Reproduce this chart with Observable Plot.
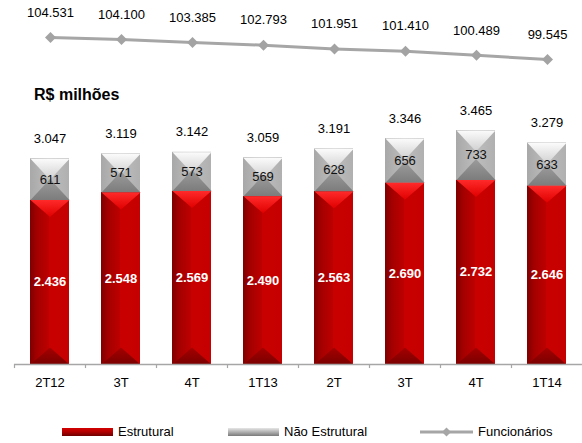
<!DOCTYPE html>
<html><head><meta charset="utf-8">
<script src="https://cdn.jsdelivr.net/npm/d3@7"></script>
<script src="https://cdn.jsdelivr.net/npm/@observablehq/plot@0.6"></script>
<style>
body{margin:0;background:#fff;font-family:Arial,"Liberation Sans",sans-serif;}
#wrap{position:relative;width:582px;height:443px;overflow:hidden;}
#topChart{position:absolute;left:0;top:0;}
#bars{position:absolute;left:0;top:100px;}
#title{position:absolute;left:34px;top:86px;font-weight:bold;font-size:16px;line-height:18px;color:#000;}
.leg{position:absolute;top:424px;font-size:13px;line-height:16px;color:#000;display:flex;align-items:center;}
.leg svg{margin-right:5px;}
</style></head><body>
<div id="wrap">
  <div id="topChart"></div>
  <div id="title">R$ milhões</div>
  <div id="bars"></div>
  <div class="leg" style="left:62px;"><svg width="51" height="10"><defs><linearGradient id="lr" x1="0" y1="0" x2="0" y2="1"><stop offset="0" stop-color="#d40000"/><stop offset="0.5" stop-color="#b00000"/><stop offset="1" stop-color="#6e0000"/></linearGradient></defs><rect x="0" y="1" width="51" height="8" fill="url(#lr)"/></svg>Estrutural</div>
  <div class="leg" style="left:228px;"><svg width="51" height="10"><defs><linearGradient id="lg" x1="0" y1="0" x2="0" y2="1"><stop offset="0" stop-color="#e6e6e6"/><stop offset="0.5" stop-color="#b0b0b0"/><stop offset="1" stop-color="#7a7a7a"/></linearGradient></defs><rect x="0" y="1" width="51" height="8" fill="url(#lg)"/></svg>Não Estrutural</div>
  <div class="leg" style="left:420px;"><svg width="53" height="12"><line x1="0" y1="6" x2="53" y2="6" stroke="#a6a6a6" stroke-width="3"/><path d="M26.5,1.5L31,6L26.5,10.5L22,6Z" fill="#a6a6a6"/></svg>Funcionários</div>
</div>
<script>
// ---- data ----
const periodKeys = ["2T12","3T12","4T12","1T13","2T13","3T13","4T13","1T14"];
const periodLabels = ["2T12","3T","4T","1T13","2T","3T","4T","1T14"];
const estrutural = [2436,2548,2569,2490,2563,2690,2732,2646];
const naoEstrutural = [611,571,573,569,628,656,733,633];
const totais = [3047,3119,3142,3059,3191,3346,3465,3279];
const funcionarios = [104531,104100,103385,102793,101951,101410,100489,99545];

const fmt = n => d3.format(",")(n).replace(/,/g, ".");
const labelOf = Object.fromEntries(periodKeys.map((k, i) => [k, periodLabels[i]]));
const rows = periodKeys.map((k, i) => ({
  key: k, estr: estrutural[i], nao: naoEstrutural[i], total: totais[i], func: funcionarios[i]
}));

const FONT = 'Arial, "Liberation Sans", sans-serif';
const HW = 19.5; // half bar width (bevel shapes)
const triDown = h => ({draw(c){c.moveTo(-HW,0);c.lineTo(HW,0);c.lineTo(0,h);c.closePath();}});
const triUp = h => ({draw(c){c.moveTo(-HW,0);c.lineTo(HW,0);c.lineTo(0,-h);c.closePath();}});
const diamond = {draw(c){c.moveTo(0,-5.5);c.lineTo(5.5,0);c.lineTo(0,5.5);c.lineTo(-5.5,0);c.closePath();}};

// ---- top line chart ----
const lineChart = Plot.plot({
  width: 582, height: 80,
  marginTop: 0, marginBottom: 0, marginLeft: 14, marginRight: 0,
  style: {fontFamily: FONT, fontSize: "13px", background: "transparent"},
  x: {type: "point", domain: periodKeys, padding: 0.5, axis: null},
  y: {domain: [99545, 104531], range: [59, 37], axis: null},
  marks: [
    Plot.line(rows, {x: "key", y: "func", stroke: "#a6a6a6", strokeWidth: 3}),
    Plot.dot(rows, {x: "key", y: "func", symbol: diamond, fill: "#a3a3a3", r: 5}),
    Plot.text(rows, {x: "key", y: "func", text: d => fmt(d.func), dy: -25, fill: "#000"})
  ]
});
document.getElementById("topChart").append(lineChart);

// ---- bar chart ----
const defs = () => {
  const s = d3.create("svg:defs");
  const grad = (id, vertical, stops) => {
    const g = s.append("linearGradient").attr("id", id)
      .attr("x1", 0).attr("y1", 0).attr("x2", vertical ? 0 : 1).attr("y2", vertical ? 1 : 0);
    stops.forEach(([o, c]) => g.append("stop").attr("offset", o).attr("stop-color", c));
  };
  grad("redBase", false, [[0, "#7e0000"], [0.18, "#a40000"], [0.49, "#bd0000"], [0.5, "#c90000"], [1, "#c50000"]]);
  grad("redTop", true, [[0, "#ff2a2a"], [1, "#e00000"]]);
  grad("redBot", true, [[0, "#a50000"], [1, "#7a0000"]]);
  grad("grayBase", false, [[0, "#a8a8a8"], [0.5, "#bdbdbd"], [1, "#b0b0b0"]]);
  grad("grayTop", true, [[0, "#fbfbfb"], [1, "#cfcfcf"]]);
  grad("grayBot", true, [[0, "#9c9c9c"], [1, "#7c7c7c"]]);
  return s.node();
};

const barChart = Plot.plot({
  width: 582, height: 300,
  marginTop: 0, marginBottom: 36, marginLeft: 14, marginRight: 0,
  style: {fontFamily: FONT, fontSize: "13px", background: "transparent", color: "#000"},
  x: {type: "band", domain: periodKeys, padding: 0, tickSize: 0, tickPadding: 13, tickFormat: k => labelOf[k], label: null},
  y: {domain: [0, 3465], range: [264, 30], axis: null},
  marks: [
    defs,
    Plot.barY(rows, {x: "key", y1: 0, y2: "estr", fill: "url(#redBase)", insetLeft: 16, insetRight: 16}),
    Plot.barY(rows, {x: "key", y1: "estr", y2: "total", fill: "url(#grayBase)", insetLeft: 16, insetRight: 16}),
    Plot.dot(rows, {x: "key", y: "total", symbol: triDown(21), fill: "url(#grayTop)", r: 5}),
    Plot.dot(rows, {x: "key", y: "estr", symbol: triUp(21), fill: "url(#grayBot)", r: 5}),
    Plot.dot(rows, {x: "key", y: "estr", symbol: triDown(17), fill: "url(#redTop)", r: 5}),
    Plot.dot(rows, {x: "key", y: 0, symbol: triUp(17), fill: "url(#redBot)", r: 5}),
    Plot.ruleY([0], {stroke: "#a6a6a6", strokeWidth: 1.5}),
    Plot.ruleX(periodKeys, {x: d => d, dx: -35.5, y1: 0, y2: -60, stroke: "#a6a6a6", strokeWidth: 1.2}),
    Plot.text(rows, {x: "key", y: "total", text: d => fmt(d.total), dy: -20, fill: "#000"}),
    Plot.text(rows, {x: "key", y: d => d.estr + d.nao / 2, text: d => fmt(d.nao), fill: "#111"}),
    Plot.text(rows, {x: "key", y: d => d.estr / 2, text: d => fmt(d.estr), fill: "#fff", fontWeight: "bold"})
  ]
});
document.getElementById("bars").append(barChart);
</script>
</body></html>
